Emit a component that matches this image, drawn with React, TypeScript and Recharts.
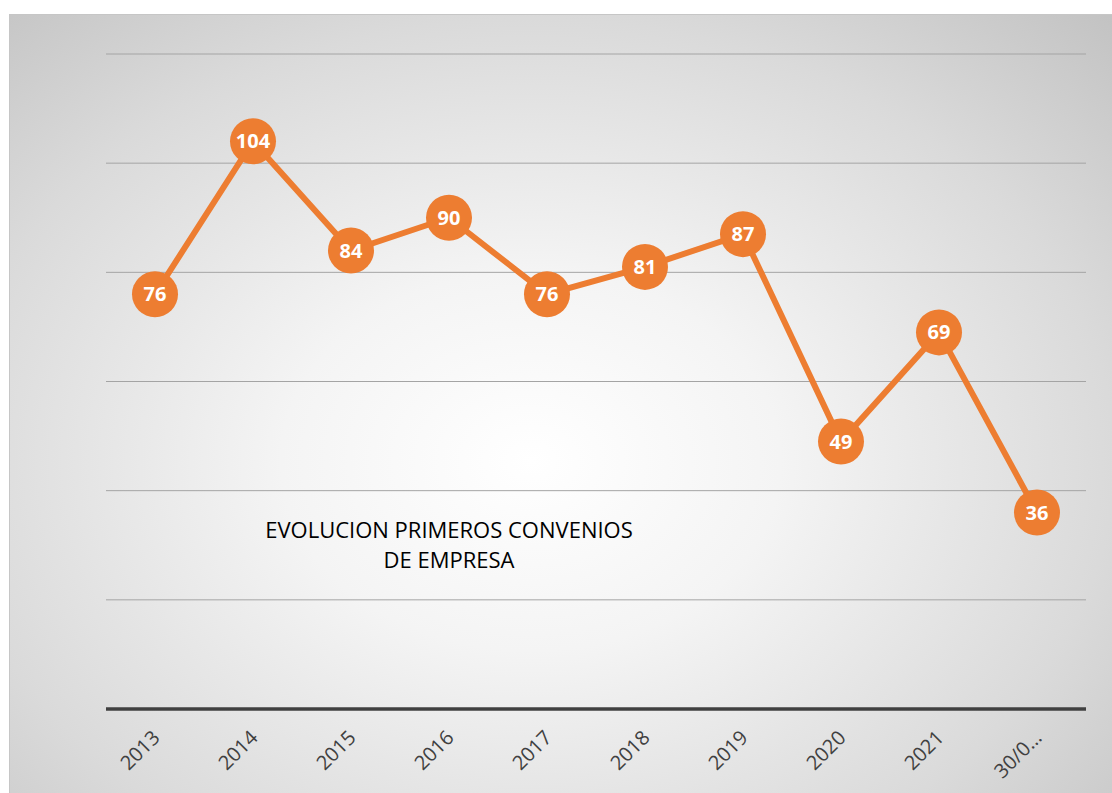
import React from 'react';
import { LineChart, Line, XAxis, YAxis, CartesianGrid, LabelList } from 'recharts';

const categories = ['2013', '2014', '2015', '2016', '2017', '2018', '2019', '2020', '2021', '30/0…'];
const convenios = [76, 104, 84, 90, 76, 81, 87, 49, 69, 36];
const yTicks = [0, 20, 40, 60, 80, 100, 120];

const chartData = categories.map((year, i) => ({ year, value: convenios[i] }));

const ORANGE = '#ED7D31';

const RotatedTick = ({ x, y, payload }: any) => (
    <text
        x={x + 6}
        y={y + 22}
        transform={`rotate(-45, ${x + 6}, ${y + 22})`}
        textAnchor="end"
        fill="#404040"
        fontSize={20}
        fontFamily="'Open Sans', sans-serif"
    >
        {payload.value}
    </text>
);

const BigDot = ({ cx, cy }: any) => {
    if (cx == null || cy == null) return null;
    return <circle cx={cx} cy={cy} r={23} fill={ORANGE} />;
};

export default function App() {
    return (
        <div style={{ position: 'fixed', left: 0, top: 0, width: 1112, height: 793, overflow: 'hidden', background: '#fff' }}>
            {/* chart panel with Excel-style radial gradient */}
            <div
                style={{
                    position: 'absolute',
                    left: 9,
                    top: 14,
                    width: 1110,
                    height: 790,
                    borderTop: '1px solid #c6c6c6',
                    borderLeft: '1px solid #c6c6c6',
                    background: 'radial-gradient(ellipse 75% 80% at 521px 446px, #ffffff 0%, #f4f4f4 30%, #dadada 70%, #c2c2c2 100%)',
                }}
            />
            <div style={{ position: 'absolute', left: 0, top: 0 }}>
                <LineChart
                    width={1112}
                    height={793}
                    data={chartData}
                    margin={{ top: 54, right: 26, left: 106, bottom: 24 }}
                >
                    <CartesianGrid vertical={false} stroke="#a4a4a4" strokeWidth={1} />
                    <YAxis hide domain={[0, 120]} ticks={yTicks} />
                    <XAxis
                        dataKey="year"
                        height={60}
                        padding={{ left: 49, right: 49 }}
                        axisLine={{ stroke: '#404040', strokeWidth: 3.5 }}
                        tickLine={false}
                        interval={0}
                        tick={<RotatedTick />}
                    />
                    <Line
                        dataKey="value"
                        stroke={ORANGE}
                        strokeWidth={6}
                        dot={<BigDot />}
                        activeDot={false}
                        isAnimationActive={false}
                    >
                        <LabelList
                            dataKey="value"
                            position="center"
                            fill="#fff"
                            fontSize={20}
                            fontWeight="bold"
                            fontFamily="'Open Sans', sans-serif"
                        />
                    </Line>
                </LineChart>
            </div>
            <div
                style={{
                    position: 'absolute',
                    left: 199,
                    top: 514,
                    width: 500,
                    textAlign: 'center',
                    fontFamily: "'Open Sans', sans-serif",
                    fontSize: 22,
                    lineHeight: '30px',
                    color: '#000',
                }}
            >
                EVOLUCION PRIMEROS CONVENIOS
                <br />
                DE EMPRESA
            </div>
        </div>
    );
}
